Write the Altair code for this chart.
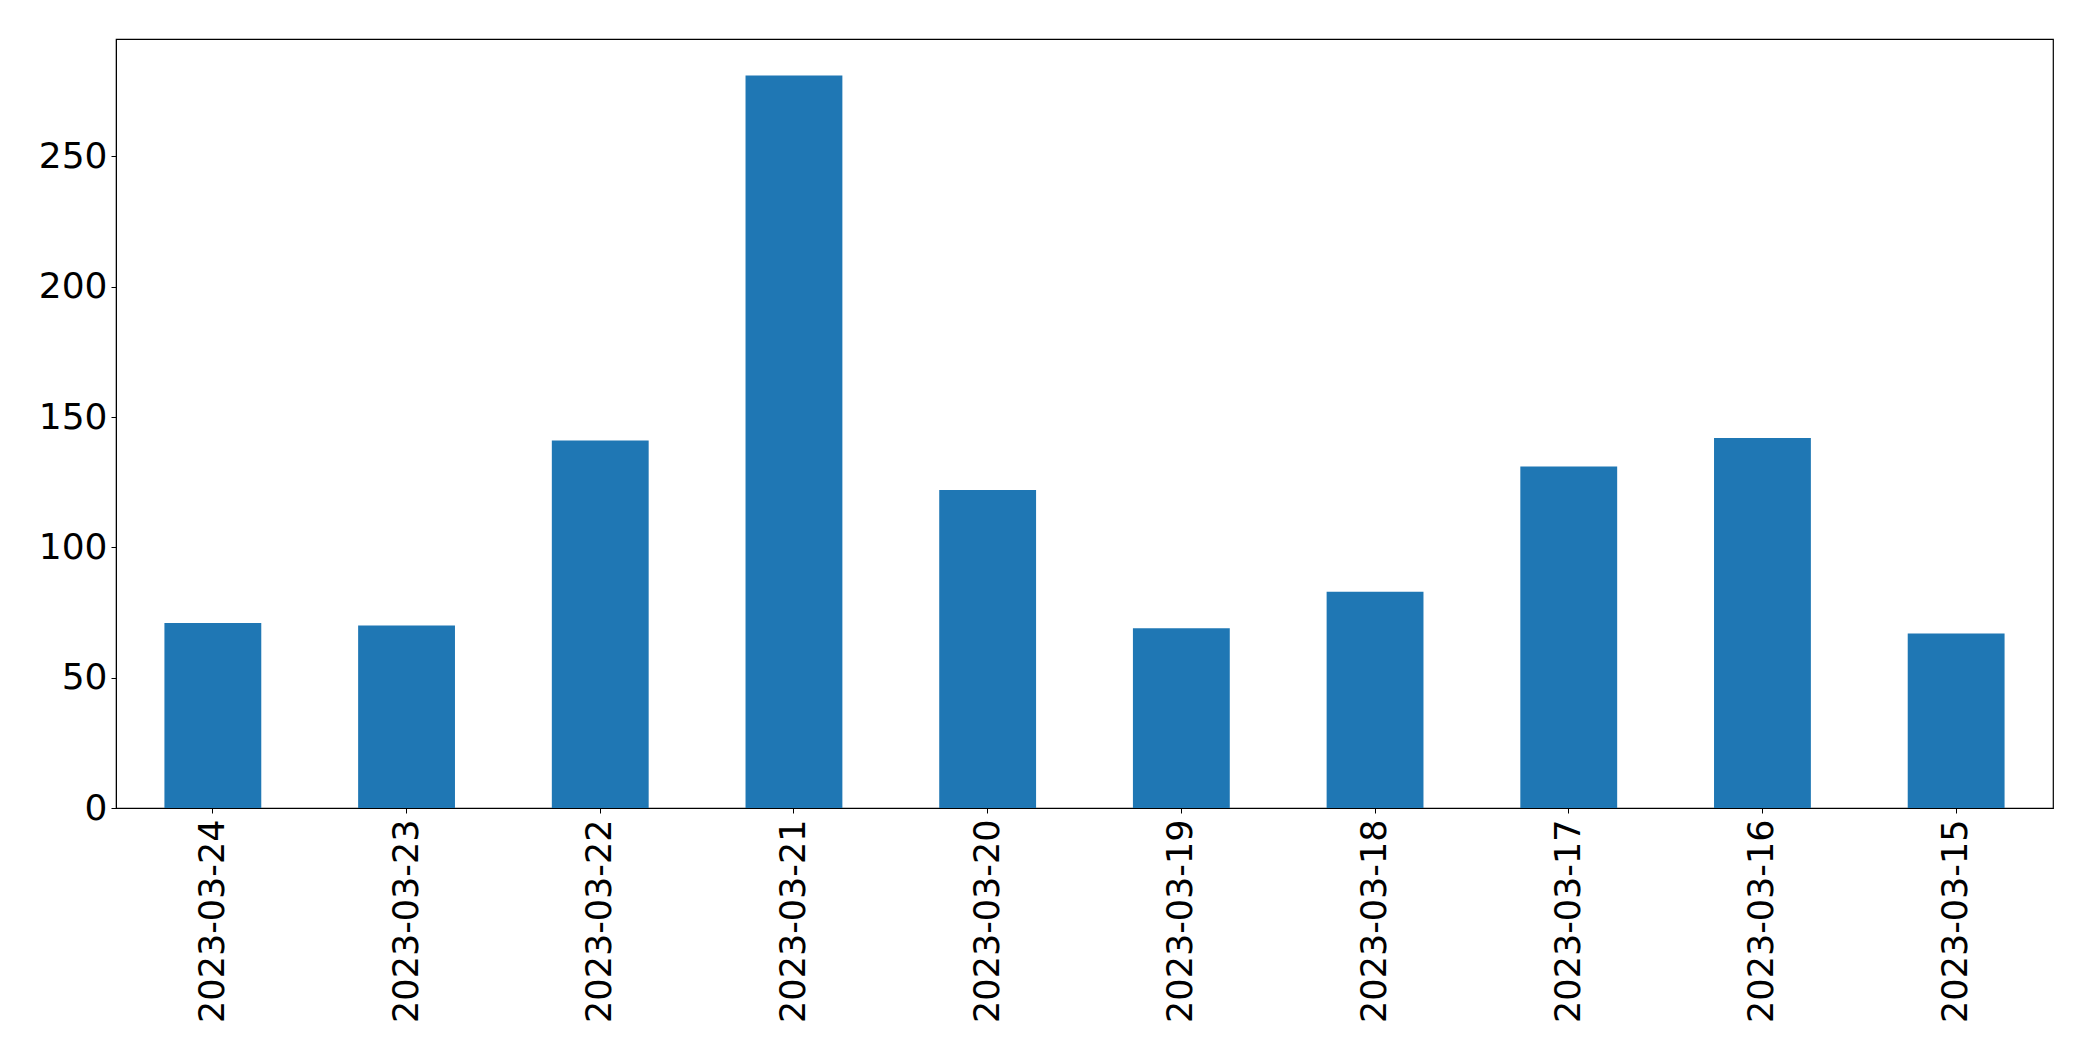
import altair as alt
import pandas as pd

dates = ["2023-03-24", "2023-03-23", "2023-03-22", "2023-03-21", "2023-03-20",
         "2023-03-19", "2023-03-18", "2023-03-17", "2023-03-16", "2023-03-15"]
counts = [71, 70, 141, 281, 122, 69, 83, 131, 142, 67]

df = pd.DataFrame({"date": dates, "count": counts})

ymax = max(counts) * 1.05

chart = alt.Chart(df).mark_bar(color="#1f77b4").encode(
    x=alt.X("date:N", sort=dates, title=None,
            scale=alt.Scale(paddingInner=0.5, paddingOuter=0.25),
            axis=alt.Axis(labelAngle=270, labelFontSize=35, labelColor="black",
                          labelFont="DejaVu Sans", tickColor="black", tickSize=5,
                          domainColor="black", labelPadding=6, labelOverlap=False,
                          labelLimit=1000)),
    y=alt.Y("count:Q", title=None,
            scale=alt.Scale(domain=[0, ymax], nice=False, zero=True),
            axis=alt.Axis(values=[0, 50, 100, 150, 200, 250], grid=False,
                          labelFontSize=36, labelColor="black", labelFont="DejaVu Sans",
                          tickColor="black", tickSize=5, domainColor="black",
                          labelPadding=4)),
).properties(
    width=1937,
    height=769,
    autosize=alt.AutoSizeParams(type="none"),
    padding={"left": 108, "top": 31, "right": 30, "bottom": 245},
    background="white",
).configure_view(
    stroke="black", strokeWidth=1.2
)

chart.save("out.html", embed_options={"renderer": "svg", "actions": False})
